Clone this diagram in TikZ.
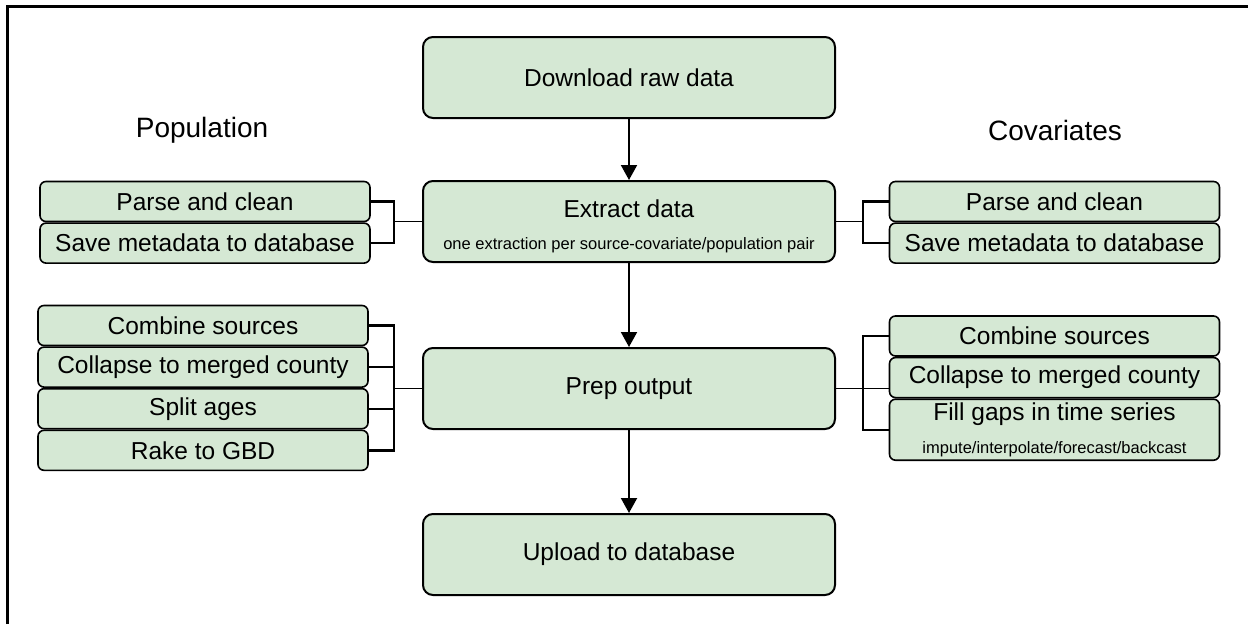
\documentclass[tikz,border=0pt]{standalone}
\usepackage{fontspec}
\setmainfont{Liberation Sans}
\usetikzlibrary{arrows.meta, positioning}
\definecolor{stagegreen}{HTML}{D5E8D4}

\begin{document}
\begin{tikzpicture}[x=1pt, y=-1pt, node distance=61pt,
    stage/.style={rectangle, rounded corners=10pt, draw, line width=2pt, fill=stagegreen, minimum width=412pt, minimum height=81pt, inner sep=0pt, align=center, font=\fontsize{24.5}{29}\selectfont},
    substep/.style={rectangle, rounded corners=6pt, draw, line width=1.6pt, fill=stagegreen, minimum width=330pt, minimum height=40pt, inner sep=0pt, align=center, font=\fontsize{24.5}{29}\selectfont},
    heading/.style={font=\fontsize{28}{32}\selectfont},
    arrow/.style={-{Triangle[length=15pt, width=16pt]}, line width=2pt},
    bracket/.style={line width=2.4pt},
    link/.style={line width=1.6pt}]

    \useasboundingbox (0,0) rectangle (1248,624);
    \draw[line width=3pt] (7,624) -- (7,6) -- (1248,6);

    % main column
    \node[stage] (download) at (629,77.5) {Download raw data};
    \node[stage, below=of download] (extract) {\rule{0pt}{27pt}Extract data\\[3pt]{\fontsize{16.5}{20}\selectfont one extraction per source-covariate/population pair}};
    \node[stage, below=84pt of extract] (prep) {Prep output};
    \node[stage, below=83pt of prep] (upload) {Upload to database};

    \node[heading] (population) at (202,130) {Population};
    \node[heading] (covariates) at (1055,130) {Covariates};

    % population steps
    \node[substep] (popparse) at (205,201.5) {Parse and clean};
    \node[substep, below=0pt of popparse] (popsave) {Save metadata to database};
    \node[substep] (popcombine) at (203,325.5) {Combine sources};
    \node[substep, below=0pt of popcombine] (popcollapse) {Collapse to merged county};
    \node[substep, below=0pt of popcollapse] (popsplit) {Split ages};
    \node[substep, below=0pt of popsplit] (poprake) {Rake to GBD};

    % covariate steps
    \node[substep] (covparse) at (1054.5,201.5) {Parse and clean};
    \node[substep, below=0pt of covparse] (covsave) {Save metadata to database};
    \node[substep] (covcombine) at (1054.5,336) {Combine sources};
    \node[substep, below=0pt of covcombine] (covcollapse) {Collapse to merged county};
    \node[substep, below=0pt of covcollapse, minimum height=61pt] (covfill) {Fill gaps in time series\\[4pt]{\fontsize{16.5}{20}\selectfont impute/interpolate/forecast/backcast}};

    \draw[arrow] (download) -- (extract);
    \draw[arrow] (extract) -- (prep);
    \draw[arrow] (prep) -- (upload);

    \draw[bracket] (popparse.east) -- ++(23,0) coordinate (popjoin) |- (popsave.east);
    \draw[link] (extract.west) -- (extract.west -| popjoin);

    \draw[bracket] (popcombine.east) -- ++(25,0) coordinate (prepjoin) |- (poprake.east);
    \draw[link] (popcollapse.east) -- (popcollapse.east -| prepjoin);
    \draw[link] (popsplit.east) -- (popsplit.east -| prepjoin);
    \draw[link] (prep.west) -- (prep.west -| prepjoin);

    \draw[bracket] (covparse.west) -- ++(-26,0) coordinate (covjoin) |- (covsave.west);
    \draw[link] (extract.east) -- (extract.east -| covjoin);

    \draw[bracket] (covcombine.west) -- ++(-26,0) coordinate (covprepjoin) |- (covfill.west);
    \draw[link] (prep.east) -- (prep.east -| covcollapse.west);
\end{tikzpicture}
\end{document}
